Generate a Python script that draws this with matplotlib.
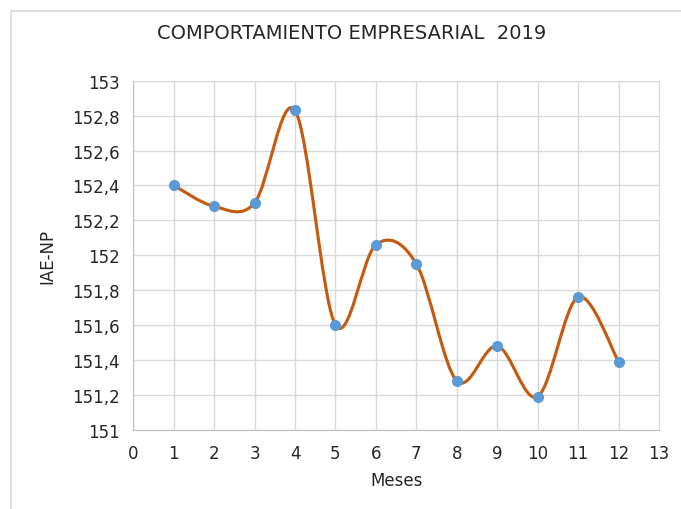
import numpy as np
import matplotlib
matplotlib.use('Agg')
import matplotlib.pyplot as plt
from matplotlib.path import Path
from matplotlib.patches import PathPatch
from matplotlib.lines import Line2D
from matplotlib.ticker import FuncFormatter

plt.rcParams['font.family'] = ['DejaVu Sans']

MESES = [1, 2, 3, 4, 5, 6, 7, 8, 9, 10, 11, 12]
IAE_NP = [152.40, 152.28, 152.30, 152.83, 151.60, 152.06,
          151.95, 151.28, 151.48, 151.19, 151.76, 151.39]

LINE = '#C55A11'
MARKER = '#5B9BD5'
GRID = '#d9d9d9'
TEXT = '#262626'


def smooth_path(xs, ys):
    # Excel-like smoothed line: Catmull-Rom segments as cubic Bezier curves
    pts = np.column_stack([xs, ys]).astype(float)
    n = len(pts)
    verts = [pts[0]]
    codes = [Path.MOVETO]
    for i in range(n - 1):
        p0 = pts[i - 1] if i > 0 else pts[i]
        p1 = pts[i]
        p2 = pts[i + 1]
        p3 = pts[i + 2] if i + 2 < n else pts[i + 1]
        c1 = p1 + (p2 - p0) / 6.0
        c2 = p2 - (p3 - p1) / 6.0
        verts += [c1, c2, p2]
        codes += [Path.CURVE4] * 3
    return Path(verts, codes)


fig = plt.figure(figsize=(6.81, 5.1), dpi=100)
# chart frame (only top and left edges visible in the crop)
fx, fy = 10.5 / 681, 1 - 11.5 / 510
fig.add_artist(Line2D([fx, 1], [fy, fy], transform=fig.transFigure,
                      color=GRID, lw=1.2))
fig.add_artist(Line2D([fx, fx], [0, fy], transform=fig.transFigure,
                      color=GRID, lw=1.2))

ax = fig.add_axes([0.1957, 0.1555, 0.772, 0.6843])
ax.set_xlim(0, 13)
ax.set_ylim(151, 153)
ax.set_xticks(range(0, 14))
ax.set_yticks(np.arange(151, 153.01, 0.2))
ax.yaxis.set_major_formatter(FuncFormatter(
    lambda v, p: ('%.1f' % v).rstrip('0').rstrip('.').replace('.', ',')))
ax.grid(True, color=GRID, lw=1)
ax.set_axisbelow(True)
for s in ax.spines.values():
    s.set_color(GRID)
ax.spines['left'].set_color('#bfbfbf')
ax.spines['bottom'].set_color('#bfbfbf')
ax.tick_params(length=0, pad=10, labelsize=12, labelcolor=TEXT)

ax.add_patch(PathPatch(smooth_path(MESES, IAE_NP), fill=False,
                       edgecolor=LINE, lw=2.25, capstyle='round', zorder=3))
ax.plot(MESES, IAE_NP, 'o', color=MARKER, ms=7, zorder=4)

fig.text(0.517, 0.935, 'COMPORTAMIENTO EMPRESARIAL  2019', ha='center',
         va='center', fontsize=14, color=TEXT)
ax.set_xlabel('Meses', fontsize=12, color=TEXT)
ax.set_ylabel('IAE-NP', fontsize=12, color=TEXT)
ax.xaxis.set_label_coords(0.5, -0.144)
ax.yaxis.set_label_coords(-0.164, 0.5)
ax.xaxis.label.set_va('center')
ax.yaxis.label.set_va('center')

fig.savefig('out.png', dpi=100)
